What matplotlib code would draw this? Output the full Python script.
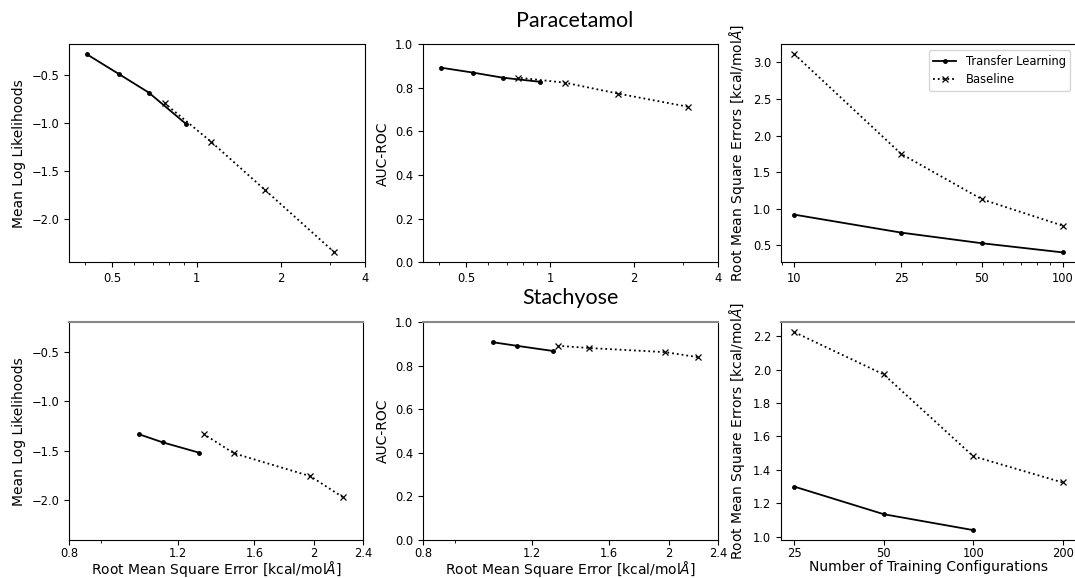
import matplotlib.pyplot as plt
from matplotlib.ticker import NullFormatter, NullLocator

# Paracetamol
para_n = [10, 25, 50, 100]
para_tl_rmse = [0.92, 0.675, 0.53, 0.405]
para_tl_mll = [-1.01, -0.68, -0.49, -0.28]
para_tl_auc = [0.828, 0.847, 0.870, 0.893]
para_bl_rmse = [3.11, 1.75, 1.13, 0.77]
para_bl_mll = [-2.345, -1.69, -1.195, -0.792]
para_bl_auc = [0.714, 0.774, 0.824, 0.847]

# Stachyose
stach_tl_n = [25, 50, 100]
stach_tl_rmse = [1.30, 1.135, 1.04]
stach_tl_mll = [-1.517, -1.413, -1.332]
stach_tl_auc = [0.868, 0.892, 0.908]
stach_bl_n = [25, 50, 100, 200]
stach_bl_rmse = [2.224, 1.971, 1.482, 1.325]
stach_bl_mll = [-1.966, -1.755, -1.524, -1.332]
stach_bl_auc = [0.840, 0.863, 0.882, 0.892]

para_xticks = [0.5, 1, 2, 4]
para_xlabels = ['0.5', '1', '2', '4']
para_nticks = [10, 25, 50, 100]
stach_xticks = [0.8, 1.2, 1.6, 2, 2.4]
stach_xlabels = ['0.8', '1.2', '1.6', '2', '2.4']
stach_nticks = [25, 50, 100, 200]

W, H = 1075, 578
fig = plt.figure(figsize=(W / 100, H / 100), dpi=100)


def box(x0, y0, x1, y1):
    return [x0 / W, 1 - y1 / H, (x1 - x0) / W, (y1 - y0) / H]


tl = dict(color='black', linestyle='-', marker='.', lw=1.3, ms=5, label='Transfer Learning')
bl = dict(color='black', linestyle=':', marker='x', lw=1.3, ms=5, mew=0.9, label='Baseline')
rmse_lab = 'Root Mean Square Error [kcal/mol$\\it{Å}$]'
rmses_lab = 'Root Mean Square Errors [kcal/mol$\\AA$]'

ax = [fig.add_axes(box(69, 44.3, 365, 262.3)),
      fig.add_axes(box(423, 44.3, 718, 262.3)),
      fig.add_axes(box(781, 44.3, 1076, 262.3)),
      fig.add_axes(box(69, 322.3, 363, 540)),
      fig.add_axes(box(423, 322.3, 718, 540)),
      fig.add_axes(box(781, 322.3, 1076, 540))]

# top row
ax[0].plot(para_tl_rmse, para_tl_mll, **tl)
ax[0].plot(para_bl_rmse, para_bl_mll, **bl)
ax[0].set_ylabel('Mean Log Likelihoods', fontsize=10)

ax[1].plot(para_tl_rmse, para_tl_auc, **tl)
ax[1].plot(para_bl_rmse, para_bl_auc, **bl)
ax[1].set_ylim(0, 1)
ax[1].set_ylabel('AUC-ROC', fontsize=10)

for a in ax[:2]:
    a.set_xscale('log')
    a.set_xlim(0.35, 4)
    a.set_xticks(para_xticks, para_xlabels)
    a.xaxis.set_minor_formatter(NullFormatter())

ax[2].plot(para_n, para_tl_rmse, **tl)
ax[2].plot(para_n, para_bl_rmse, **bl)
ax[2].set_xscale('log')
ax[2].set_xticks(para_nticks, [str(n) for n in para_nticks])
ax[2].xaxis.set_minor_formatter(NullFormatter())
ax[2].set_ylabel(rmses_lab, fontsize=10)
ax[2].legend(loc='upper right', fontsize=8.3)

# bottom row
ax[3].plot(stach_tl_rmse, stach_tl_mll, **tl)
ax[3].plot(stach_bl_rmse, stach_bl_mll, **bl)
ax[3].set_ylim(-2.4, -0.2)
ax[3].set_yticks([-2.0, -1.5, -1.0, -0.5])
ax[3].set_ylabel('Mean Log Likelihoods', fontsize=10)

ax[4].plot(stach_tl_rmse, stach_tl_auc, **tl)
ax[4].plot(stach_bl_rmse, stach_bl_auc, **bl)
ax[4].set_ylim(0, 1)
ax[4].set_ylabel('AUC-ROC', fontsize=10)

for a in ax[3:5]:
    a.set_xscale('log')
    a.set_xlim(0.8, 2.4)
    a.set_xticks(stach_xticks, stach_xlabels)
    a.xaxis.set_minor_formatter(NullFormatter())
    a.set_xlabel(rmse_lab, fontsize=10, labelpad=-0.5)

ax[5].plot(stach_tl_n, stach_tl_rmse, **tl)
ax[5].plot(stach_bl_n, stach_bl_rmse, **bl)
ax[5].set_xscale('log')
ax[5].set_xticks(stach_nticks, [str(n) for n in stach_nticks])
ax[5].xaxis.set_minor_locator(NullLocator())
ax[5].set_xlabel('Number of Training Configurations', fontsize=10, labelpad=0)
ax[5].set_ylabel(rmses_lab, fontsize=10)

for a in ax:
    a.tick_params(labelsize=8.3)
for a in ax[3:]:
    a.tick_params(axis='x', pad=1.5)
    a.spines['top'].set_color('#888888')
    a.spines['top'].set_linewidth(1.5)

fig.text(575 / W, 1 - 21 / H, 'Paracetamol', ha='center', va='center', fontsize=15.5, family='Lato')
fig.text(570 / W, 1 - 298 / H, 'Stachyose', ha='center', va='center', fontsize=15.5, family='Lato')

plt.savefig('out.png', dpi=100)
